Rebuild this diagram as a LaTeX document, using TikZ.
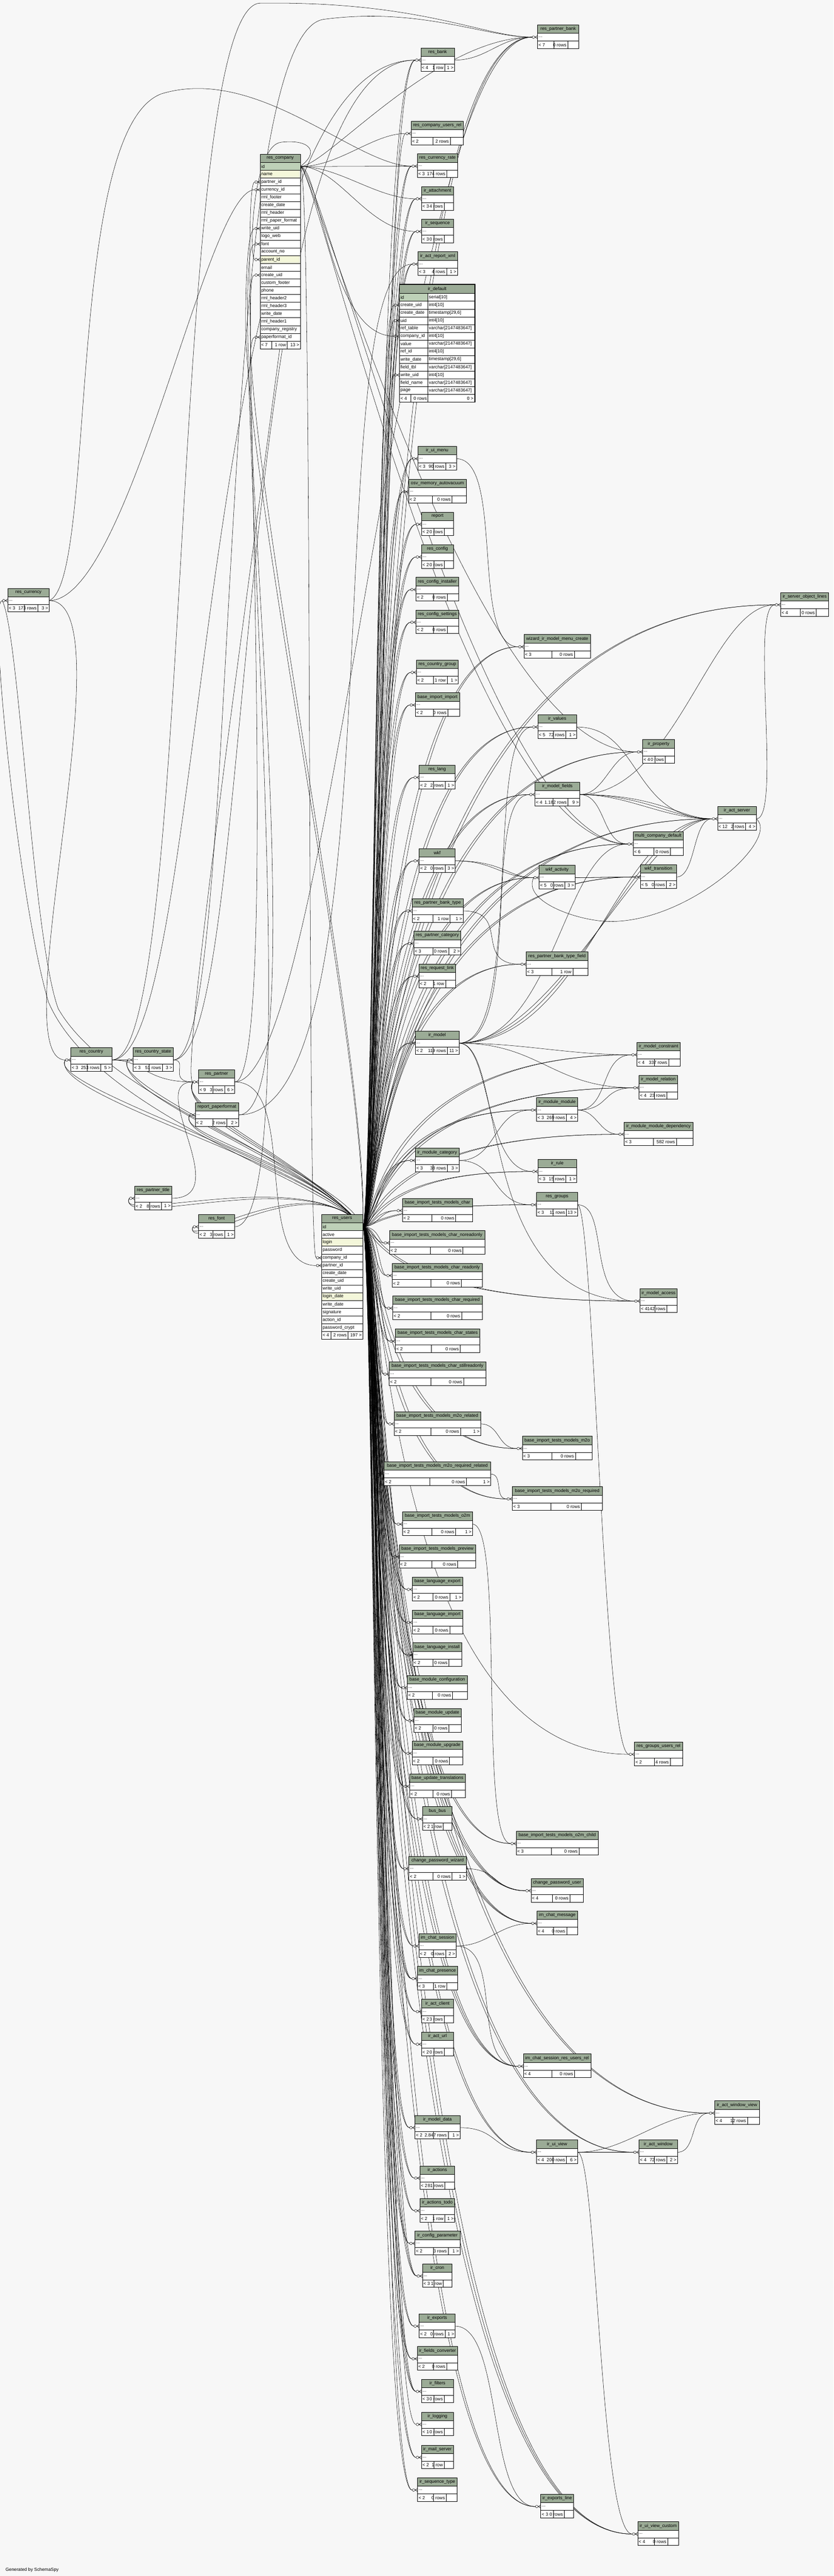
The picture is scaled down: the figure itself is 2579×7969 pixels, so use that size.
\documentclass[tikz,border=0pt]{standalone}
\usepackage{fontspec}
\setmainfont{Liberation Sans}
\usetikzlibrary{calc}
\definecolor{bgc}{HTML}{F7F7F7}
\definecolor{hdrc}{HTML}{9BAB96}
\definecolor{pkc}{HTML}{BED1B8}
\definecolor{idxc}{HTML}{F4F7DA}
\pgfdeclarelayer{bgl}
\pgfdeclarelayer{edges}
\pgfsetlayers{bgl,edges,main}
\newcommand\tfont{\fontsize{14}{16}\selectfont}
\newlength\tbw
\tikzset{
 tline/.style={draw=black,line width=1pt},
 thick border/.style={draw=black,line width=2.6pt},
 mk/.style={draw=black,line width=0.8pt},
 fk/.style={draw=black,line width=0.85pt},
 ttext/.style={inner sep=0pt,font=\tfont,text=black},
}
\newcommand\crowmark[2]{%
 \draw[mk] (#1-12.5,#2) circle (4pt);
 \draw[mk] (#1-8,#2) -- (#1,#2+5) (#1-8,#2) -- (#1,#2) (#1-8,#2) -- (#1,#2-5);}
% name, x, y, width, label, left, mid, right
\newcommand\tbl[8]{%
 \settowidth{\tbw}{\tfont #6}\pgfmathsetmacro\tL{\tbw+10}%
 \settowidth{\tbw}{\tfont #7}\pgfmathsetmacro\tM{\tbw+10}%
 \settowidth{\tbw}{\tfont #8}\pgfmathsetmacro\tR{max(\tbw+10,16)}%
 \pgfmathsetmacro\tX{max(#4-\tL-\tM-\tR,0)}%
 \pgfmathsetmacro\tla{\tL+0.45*\tX}%
 \pgfmathsetmacro\tra{\tR+0.2*\tX}%
 \node[fill=white,draw=none,inner sep=0pt,minimum width=#4pt,minimum height=73pt,anchor=north west] (#1) at (#2,-#3) {};
 \fill[hdrc] (#2,-#3) rectangle ++(#4,-26);
 \draw[tline] (#2,-#3) rectangle ++(#4,-73);
 \draw[tline] (#2,-#3-26) -- ++(#4,0) (#2,-#3-50) -- ++(#4,0);
 \draw[tline] (#2+\tla,-#3-50) -- ++(0,-23) (#2+#4-\tra,-#3-50) -- ++(0,-23);
 \node[ttext] (#1-t) at (#2+#4/2,-#3-13) {#5};
 \node[ttext,anchor=west] (#1-d) at (#2+3,-#3-38) {...};
 \node[ttext,anchor=west] (#1-l) at (#2+3,-#3-62) {#6};
 \node[ttext,anchor=east] (#1-m) at (#2+#4-\tra-4,-#3-62) {#7};
 \node[ttext,anchor=east] (#1-r) at (#2+#4-3,-#3-62) {#8};
 \coordinate (#1-in) at (#2-17,-#3-38);
 \coordinate (#1-out) at (#2+#4,-#3-38);
 \crowmark{#2}{-#3-38}%
}
\newcommand\fk[4]{\draw[fk] (#1) .. controls ($(#1)+(#3,0)$) and ($(#2)+(#4,0)$) .. (#2);}
\begin{document}
\begin{tikzpicture}[x=1pt,y=1pt]
\begin{pgfonlayer}{bgl}
\fill[bgc] (0,0) rectangle (2579,-7969);
\end{pgfonlayer}
\useasboundingbox (0,0) rectangle (2579,-7969);

% ---------- small tables ----------
\tbl{rpbank}{1663}{77}{128}{res\_partner\_bank}{< 7}{0 rows}{}
\tbl{rbank}{1302}{148}{104}{res\_bank}{< 4}{1 row}{1 >}
\tbl{rcur}{1272}{375}{162}{res\_company\_users\_rel}{< 2}{2 rows}{}
\tbl{rcrate}{1291}{476}{125}{res\_currency\_rate}{< 3}{174 rows}{}
\tbl{iratt}{1304}{577}{99}{ir\_attachment}{< 3}{4 rows}{}
\tbl{irseq}{1304}{678}{99}{ir\_sequence}{< 3}{0 rows}{}
\tbl{irarx}{1293}{779}{122}{ir\_act\_report\_xml}{< 3}{4 rows}{1 >}
\tbl{iruim}{1293}{1381}{119}{ir\_ui\_menu}{< 3}{90 rows}{3 >}
\tbl{osv}{1264}{1483}{179}{osv\_memory\_autovacuum}{< 2}{0 rows}{}
\tbl{report}{1304}{1584}{99}{report}{< 2}{0 rows}{}
\tbl{rconf}{1304}{1685}{99}{res\_config}{< 2}{0 rows}{}
\tbl{rconfi}{1287}{1786}{132}{res\_config\_installer}{< 2}{0 rows}{}
\tbl{rconfs}{1287}{1887}{132}{res\_config\_settings}{< 2}{0 rows}{}
\tbl{wiz}{1621}{1963}{206}{wizard\_ir\_model\_menu\_create}{< 3}{0 rows}{}
\tbl{rcg}{1288}{2042}{130}{res\_country\_group}{< 2}{1 row}{1 >}
\tbl{bii}{1285}{2143}{137}{base\_import\_import}{< 2}{0 rows}{}
\tbl{irval}{1664}{2211}{120}{ir\_values}{< 5}{72 rows}{1 >}
\tbl{irprop}{1988}{2288}{99}{ir\_property}{< 4}{0 rows}{}
\tbl{isol}{2415}{1833}{149}{ir\_server\_object\_lines}{< 4}{0 rows}{}
\tbl{rlang}{1297}{2367}{111}{res\_lang}{< 2}{2 rows}{1 >}
\tbl{irmf}{1655}{2420}{139}{ir\_model\_fields}{< 4}{1.182 rows}{9 >}
\tbl{ias}{2220}{2495}{120}{ir\_act\_server}{< 12}{2 rows}{4 >}
\tbl{mcd}{1959}{2573}{155}{multi\_company\_default}{< 6}{0 rows}{}
\tbl{wkf}{1297}{2625}{111}{wkf}{< 2}{0 rows}{3 >}
\tbl{wkfa}{1668}{2677}{111}{wkf\_activity}{< 5}{0 rows}{3 >}
\tbl{wkft}{1981}{2675}{112}{wkf\_transition}{< 5}{0 rows}{2 >}
\tbl{rpbt}{1275}{2780}{158}{res\_partner\_bank\_type}{< 2}{1 row}{1 >}
\tbl{rpc}{1280}{2881}{146}{res\_partner\_category}{< 3}{0 rows}{2 >}
\tbl{rrl}{1296}{2982}{114}{res\_request\_link}{< 2}{1 row}{}
\tbl{rpbtf}{1628}{2945}{191}{res\_partner\_bank\_type\_field}{< 3}{1 row}{}
\tbl{irm}{1285}{3189}{135}{ir\_model}{< 2}{119 rows}{11 >}
\tbl{irmc}{1971}{3225}{133}{ir\_model\_constraint}{< 4}{337 rows}{}
\tbl{irmr}{1977}{3327}{119}{ir\_model\_relation}{< 4}{23 rows}{}
\tbl{imm}{1660}{3396}{127}{ir\_module\_module}{< 3}{269 rows}{4 >}
\tbl{immd}{1931}{3471}{213}{ir\_module\_module\_dependency}{< 3}{582 rows}{}
\tbl{imc}{1285}{3552}{135}{ir\_module\_category}{< 3}{38 rows}{3 >}
\tbl{irule}{1664}{3586}{120}{ir\_rule}{< 3}{15 rows}{1 >}
\tbl{rgrp}{1660}{3689}{127}{res\_groups}{< 3}{11 rows}{13 >}
\tbl{bc}{1245}{3707}{217}{base\_import\_tests\_models\_char}{< 2}{0 rows}{}
\tbl{bcn}{1205}{3807}{295}{base\_import\_tests\_models\_char\_noreadonly}{< 2}{0 rows}{}
\tbl{bcr}{1213}{3908}{279}{base\_import\_tests\_models\_char\_readonly}{< 2}{0 rows}{}
\tbl{irma}{1980}{3987}{115}{ir\_model\_access}{< 4}{142 rows}{}
\tbl{bcq}{1215}{4009}{277}{base\_import\_tests\_models\_char\_required}{< 2}{0 rows}{}
\tbl{bcs}{1223}{4111}{262}{base\_import\_tests\_models\_char\_states}{< 2}{0 rows}{}
\tbl{bcsr}{1204}{4213}{299}{base\_import\_tests\_models\_char\_stillreadonly}{< 2}{0 rows}{}
\tbl{bmr}{1219}{4367}{268}{base\_import\_tests\_models\_m2o\_related}{< 2}{0 rows}{1 >}
\tbl{bm}{1616}{4443}{216}{base\_import\_tests\_models\_m2o}{< 3}{0 rows}{}
\tbl{bmrr}{1188}{4522}{330}{base\_import\_tests\_models\_m2o\_required\_related}{< 2}{0 rows}{1 >}
\tbl{bmq}{1585}{4599}{278}{base\_import\_tests\_models\_m2o\_required}{< 3}{0 rows}{}
\tbl{bo}{1245}{4677}{217}{base\_import\_tests\_models\_o2m}{< 2}{0 rows}{1 >}
\tbl{bp}{1235}{4778}{237}{base\_import\_tests\_models\_preview}{< 2}{0 rows}{}
\tbl{ble}{1276}{4879}{155}{base\_language\_export}{< 2}{0 rows}{1 >}
\tbl{bli}{1276}{4981}{155}{base\_language\_import}{< 2}{0 rows}{}
\tbl{blin}{1277}{5082}{151}{base\_language\_install}{< 2}{0 rows}{}
\tbl{bmc}{1260}{5183}{186}{base\_module\_configuration}{< 2}{0 rows}{}
\tbl{bmu}{1280}{5285}{147}{base\_module\_update}{< 2}{0 rows}{}
\tbl{bmup}{1275}{5386}{156}{base\_module\_upgrade}{< 2}{0 rows}{}
\tbl{but}{1267}{5488}{173}{base\_update\_translations}{< 2}{0 rows}{}
\tbl{bus}{1307}{5589}{92}{bus\_bus}{< 2}{1 row}{}
\tbl{rgur}{1963}{5389}{149}{res\_groups\_users\_rel}{< 2}{4 rows}{}
\tbl{boc}{1597}{5665}{254}{base\_import\_tests\_models\_o2m\_child}{< 3}{0 rows}{}
\tbl{cpw}{1265}{5743}{178}{change\_password\_wizard}{< 2}{0 rows}{1 >}
\tbl{cpu}{1643}{5811}{161}{change\_password\_user}{< 4}{0 rows}{}
\tbl{icm}{1661}{5912}{126}{im\_chat\_message}{< 4}{0 rows}{}
\tbl{ics}{1296}{5982}{115}{im\_chat\_session}{< 2}{0 rows}{2 >}
\tbl{icp}{1291}{6083}{125}{im\_chat\_presence}{< 3}{1 row}{}
\tbl{iac}{1304}{6185}{99}{ir\_act\_client}{< 2}{3 rows}{}
\tbl{iau}{1304}{6286}{99}{ir\_act\_url}{< 2}{0 rows}{}
\tbl{icsr}{1619}{6354}{209}{im\_chat\_session\_res\_users\_rel}{< 4}{0 rows}{}
\tbl{iawv}{2211}{6499}{138}{ir\_act\_window\_view}{< 4}{12 rows}{}
\tbl{imd}{1284}{6544}{139}{ir\_model\_data}{< 2}{2.847 rows}{1 >}
\tbl{iuv}{1660}{6620}{127}{ir\_ui\_view}{< 4}{200 rows}{6 >}
\tbl{iaw}{1977}{6620}{119}{ir\_act\_window}{< 4}{72 rows}{2 >}
\tbl{iact}{1299}{6700}{108}{ir\_actions}{< 2}{81 rows}{}
\tbl{iatd}{1299}{6801}{108}{ir\_actions\_todo}{< 2}{1 row}{1 >}
\tbl{icfg}{1284}{6902}{139}{ir\_config\_parameter}{< 2}{3 rows}{1 >}
\tbl{icron}{1307}{7003}{92}{ir\_cron}{< 3}{1 row}{}
\tbl{iexp}{1297}{7158}{111}{ir\_exports}{< 2}{0 rows}{1 >}
\tbl{ifc}{1291}{7259}{125}{ir\_fields\_converter}{< 2}{0 rows}{}
\tbl{ifil}{1304}{7360}{99}{ir\_filters}{< 3}{0 rows}{}
\tbl{ilog}{1304}{7462}{99}{ir\_logging}{< 1}{0 rows}{}
\tbl{ims}{1304}{7564}{99}{ir\_mail\_server}{< 2}{1 row}{}
\tbl{ist}{1292}{7665}{122}{ir\_sequence\_type}{< 2}{0 rows}{}
\tbl{iel}{1673}{7716}{102}{ir\_exports\_line}{< 3}{0 rows}{}
\tbl{iuvc}{1973}{7801}{127}{ir\_ui\_view\_custom}{< 4}{0 rows}{}
\tbl{rcurr}{24}{1820}{128}{res\_currency}{< 3}{173 rows}{3 >}
\tbl{rcty}{219}{3241}{127}{res\_country}{< 3}{253 rows}{5 >}
\tbl{rcs}{412}{3241}{124}{res\_country\_state}{< 3}{51 rows}{3 >}
\tbl{rpart}{614}{3309}{112}{res\_partner}{< 9}{3 rows}{6 >}
\tbl{rpf}{604}{3411}{134}{report\_paperformat}{< 2}{2 rows}{2 >}
\tbl{rpt}{417}{3669}{114}{res\_partner\_title}{< 2}{8 rows}{1 >}
\tbl{rfont}{614}{3757}{112}{res\_font}{< 2}{3 rows}{1 >}

% ---------- res_company ----------
\node[fill=white,inner sep=0pt,minimum width=124pt,minimum height=602pt,anchor=north west] (rcomp) at (805,-477) {};
\fill[hdrc] (805,-477) rectangle ++(124,-26);
\fill[pkc] (805,-503) rectangle ++(124,-24);
\fill[idxc] (805,-527) rectangle ++(124,-24);
\fill[idxc] (805,-791) rectangle ++(124,-24);
\node[ttext] (rcomp-t) at (867,-490) {res\_company};
\foreach \r [count=\i] in {id,name,partner\_id,currency\_id,rml\_footer,create\_date,rml\_header,rml\_paper\_format,write\_uid,logo\_web,font,account\_no,parent\_id,email,create\_uid,custom\_footer,phone,rml\_header2,rml\_header3,write\_date,rml\_header1,company\_registry,paperformat\_id}{
  \node[ttext,anchor=west] (rcomp-r\i) at (808,{-503-(\i-1)*24-12}) {\r};
  \draw[tline] (805,{-503-\i*24}) -- ++(124,0);
}
\draw[tline] (805,-477) rectangle ++(124,-602);
\draw[tline] (805,-503) -- ++(124,0);
\draw[tline] (840,-1055) -- ++(0,-24) (888,-1055) -- ++(0,-24);
\node[ttext,anchor=west] (rcomp-fl) at (808,-1067) {< 7};
\node[ttext,anchor=east] (rcomp-fm) at (885,-1067) {1 row};
\node[ttext,anchor=east] (rcomp-fr) at (926,-1067) {13 >};
\coordinate (rcomp-id) at (929,-515);
\crowmark{805}{-563}\coordinate (rcomp-partner) at (788,-563);
\crowmark{805}{-587}\coordinate (rcomp-currency) at (788,-587);
\crowmark{805}{-707}\coordinate (rcomp-write) at (788,-707);
\crowmark{805}{-755}\coordinate (rcomp-font) at (788,-755);
\crowmark{805}{-803}\coordinate (rcomp-parent) at (788,-803);
\crowmark{805}{-851}\coordinate (rcomp-create) at (788,-851);
\crowmark{805}{-1043}\coordinate (rcomp-paper) at (788,-1043);

% ---------- res_users ----------
\node[fill=white,inner sep=0pt,minimum width=127pt,minimum height=386pt,anchor=north west] (rusers) at (995,-3757) {};
\fill[hdrc] (995,-3757) rectangle ++(127,-26);
\fill[pkc] (995,-3783) rectangle ++(127,-24);
\fill[idxc] (995,-3831) rectangle ++(127,-24);
\fill[idxc] (995,-3999) rectangle ++(127,-24);
\node[ttext] (rusers-t) at (1058.5,-3770) {res\_users};
\foreach \r [count=\i] in {id,active,login,password,company\_id,partner\_id,create\_date,create\_uid,write\_uid,login\_date,write\_date,signature,action\_id,password\_crypt}{
  \node[ttext,anchor=west] (rusers-r\i) at (998,{-3783-(\i-1)*24-12}) {\r};
  \draw[tline] (995,{-3783-\i*24}) -- ++(127,0);
}
\draw[tline] (995,-3757) rectangle ++(127,-386);
\draw[tline] (995,-3783) -- ++(127,0);
\draw[tline] (1024,-4119) -- ++(0,-24) (1076,-4119) -- ++(0,-24);
\node[ttext,anchor=west] (rusers-fl) at (998,-4131) {< 4};
\node[ttext,anchor=east] (rusers-fm) at (1073,-4131) {2 rows};
\node[ttext,anchor=east] (rusers-fr) at (1119,-4131) {197 >};
\coordinate (rusers-id) at (1122,-3795);
\crowmark{995}{-3891}\coordinate (rusers-company) at (978,-3891);
\crowmark{995}{-3915}\coordinate (rusers-partner) at (978,-3915);

% ---------- ir_default ----------
\node[fill=white,inner sep=0pt,minimum width=233pt,minimum height=364pt,anchor=north west] (irdef) at (1236,-880) {};
\fill[hdrc] (1236,-880) rectangle ++(233,-28);
\fill[pkc] (1236,-908) rectangle ++(88,-24);
\node[ttext] (irdef-t) at (1352.5,-894) {ir\_default};
\foreach \r/\s [count=\i] in {id/serial[10],create\_uid/int4[10],create\_date/{timestamp[29,6]},uid/int4[10],ref\_table/varchar[2147483647],company\_id/int4[10],value/varchar[2147483647],ref\_id/int4[10],write\_date/{timestamp[29,6]},field\_tbl/varchar[2147483647],write\_uid/int4[10],field\_name/varchar[2147483647],page/varchar[2147483647]}{
  \node[ttext,anchor=west] (irdef-a\i) at (1239,{-908-(\i-1)*24-12}) {\r};
  \node[ttext,anchor=west] (irdef-b\i) at (1327,{-908-(\i-1)*24-12}) {\s};
  \draw[tline] (1236,{-908-\i*24}) -- ++(233,0);
}
\draw[tline] (1236,-908) -- ++(233,0);
\draw[tline] (1324,-908) -- (1324,-1220);
\draw[tline] (1270,-1220) -- ++(0,-24) (1324,-1220) -- ++(0,-24);
\node[ttext,anchor=west] (irdef-fl) at (1239,-1232) {< 4};
\node[ttext,anchor=east] (irdef-fm) at (1321,-1232) {0 rows};
\node[ttext,anchor=east] (irdef-fr) at (1465,-1232) {0 >};
\draw[thick border] (1236,-880) rectangle ++(233,-364);
\crowmark{1236}{-944}\coordinate (irdef-create) at (1219,-944);
\crowmark{1236}{-992}\coordinate (irdef-uid) at (1219,-992);
\crowmark{1236}{-1040}\coordinate (irdef-company) at (1219,-1040);
\crowmark{1236}{-1160}\coordinate (irdef-write) at (1219,-1160);

\node[ttext,anchor=west] (gen) at (17,-7950) {Generated by SchemaSpy};

% ---------- connectors ----------
\begin{pgfonlayer}{edges}
\coordinate (ux1) at (1158,0);
\coordinate (ux2) at (1172,0);
\coordinate (ux3) at (1186,0);
% res_users bundle
\foreach \c in {rpbank,rbank,rcrate,iratt,irseq,irarx,iruim,osv,report,rconf,rconfi,rconfs,wiz,rcg,bii,irval,irprop,isol,rlang,irmf,ias,mcd,wkf,wkfa,wkft,rpbt,rpc,rrl,rpbtf,irm,irmc,irmr,imm,immd,imc,irule,rgrp,bc,bcn,bcr,irma,bcq,bcs,bcsr,bmr,bm,bmrr,bmq,bo,bp,ble,bli,blin,bmc,bmu,bmup,but,bus,boc,cpw,cpu,icm,ics,icp,iac,iau,icsr,iawv,imd,iuv,iaw,iact,iatd,icfg,icron,iexp,ifc,ifil,ims,ist,iel,iuvc}{
  \draw[fk] (rusers-id) .. controls (ux1 |- rusers-id) and (ux1 |- \c-in) .. (\c-in);
  \draw[fk] (rusers-id) .. controls (ux2 |- rusers-id) and (ux2 |- \c-in) .. (\c-in);
}
\foreach \c in {rcur,rgur,ilog,cpu,icm,icp,icsr,icron,ifil,iuvc}{
  \draw[fk] (rusers-id) .. controls (ux3 |- rusers-id) and (ux3 |- \c-in) .. (\c-in);
}
\foreach \c in {irdef-create,irdef-uid,irdef-write}{
  \draw[fk] (rusers-id) .. controls (ux1 |- rusers-id) and (ux1 |- \c) .. (\c);
}
\draw[fk] (rusers-id) .. controls (1140,-3300) and (760,-1500) .. (760,-1000) .. controls (760,-820) and (770,-707) .. (rcomp-write);
\draw[fk] (rusers-id) .. controls (1150,-3350) and (775,-1500) .. (775,-1050) .. controls (775,-900) and (775,-851) .. (rcomp-create);
% res_users to left-hand tables
\draw[fk] (rusers-id) .. controls (1000,-3650) and (300,-3450) .. (150,-3100) .. controls (60,-2800) and (-40,-1857) .. (rcurr-in);
\draw[fk] (rusers-id) .. controls (1050,-3620) and (350,-3420) .. (180,-3120) .. controls (100,-2900) and (60,-1960) .. (rcurr-in);
\foreach \c/\cx/\cy in {rcty/140/-3360,rcty/150/-3390,rcs/340/-3360,rcs/350/-3390,rpart/540/-3420,rpart/545/-3440,rpart/550/-3460,rpf/540/-3510,rpf/550/-3530,rpt/350/-3790,rpt/360/-3810,rfont/560/-3870,rfont/570/-3890}{
  \draw[fk] (rusers-id) .. controls (960,-3600) and (\cx,\cy) .. (\c-in);
}
% res_company children
\fk{rcomp-id}{rcur-in}{120}{-100}
\fk{rcomp-id}{rcrate-in}{120}{-100}
\fk{rcomp-id}{iratt-in}{120}{-120}
\fk{rcomp-id}{irseq-in}{120}{-150}
\fk{rcomp-id}{irdef-company}{60}{-200}
\fk{rcomp-id}{rpbank-in}{80}{-300}
\fk{rcomp-id}{irprop-in}{40}{-500}
\fk{rcomp-id}{mcd-in}{50}{-500}
\fk{rcomp-id}{mcd-in}{70}{-450}
\fk{rcomp-id}{rpart-in}{30}{-60}
\fk{rcomp-id}{rusers-company}{40}{-30}
\draw[fk] (rcomp-id) .. controls (990,-470) and (960,-430) .. (870,-440) .. controls (780,-450) and (770,-803) .. (rcomp-parent);
% res_partner, currency, country, ...
\fk{rpart-out}{rcomp-partner}{150}{-60}
\fk{rpart-out}{rusers-partner}{200}{-200}
\fk{rpart-out}{rpbank-in}{300}{-400}
\fk{rcurr-out}{rcomp-currency}{250}{-150}
\draw[fk] (rcurr-out) .. controls (300,-1800) and (200,-400) .. (500,-290) .. controls (800,-200) and (1100,-514) .. (rcrate-in);
\fk{rcurr-out}{rcty-in}{250}{-200}
\fk{rcty-out}{rcs-in}{30}{-30}
\fk{rcty-out}{rpart-in}{100}{-150}
\draw[fk] (rcty-out) .. controls (650,-3278) and (600,-185) .. (rbank-in);
\draw[fk] (rcty-out) .. controls (600,-3278) and (520,-60) .. (800,-10) .. controls (1300,-2) and (1500,-115) .. (rpbank-in);
\fk{rcs-out}{rpart-in}{50}{-80}
\draw[fk] (rcs-out) .. controls (800,-3278) and (700,-185) .. (rbank-in);
\draw[fk] (rcs-out) .. controls (750,-3278) and (650,-120) .. (1000,-60) .. controls (1300,-20) and (1500,-115) .. (rpbank-in);
\fk{rpt-out}{rpart-in}{200}{-150}
\fk{rfont-out}{rcomp-font}{250}{-100}
\fk{rpf-out}{rcomp-paper}{250}{-80}
\fk{rpf-out}{irarx-in}{500}{-300}
\fk{rbank-out}{rpbank-in}{100}{-100}
\fk{iruim-out}{wiz-in}{150}{-150}
% ir_model family
\fk{irm-out}{irmf-in}{200}{-150}
\fk{irm-out}{irval-in}{200}{-150}
\fk{irm-out}{ias-in}{300}{-200}
\fk{irm-out}{ias-in}{350}{-250}
\fk{irm-out}{ias-in}{400}{-300}
\fk{irm-out}{mcd-in}{300}{-200}
\fk{irm-out}{irmc-in}{200}{-200}
\fk{irm-out}{irmr-in}{250}{-250}
\fk{irm-out}{irule-in}{100}{-150}
\fk{irm-out}{irma-in}{150}{-500}
\fk{irmf-out}{irprop-in}{80}{-80}
\fk{irmf-out}{ias-in}{150}{-150}
\fk{irmf-out}{ias-in}{200}{-120}
\fk{irmf-out}{ias-in}{250}{-100}
\fk{irmf-out}{isol-in}{300}{-200}
\fk{irmf-out}{mcd-in}{80}{-80}
\fk{irval-out}{ias-in}{200}{-250}
\fk{ias-out}{isol-in}{80}{-80}
\draw[fk] (ias-out) .. controls (2420,-2600) and (2100,-2880) .. (1850,-2848) .. controls (1750,-2835) and (1620,-2780) .. (wkfa-in);
\fk{wkf-out}{wkfa-in}{120}{-100}
\fk{wkf-out}{wkfa-in}{150}{-80}
\fk{wkfa-out}{wkft-in}{60}{-60}
\fk{wkfa-out}{wkft-in}{80}{-80}
\fk{wkft-out}{ias-in}{60}{-60}
\fk{rpbt-out}{rpbtf-in}{150}{-150}
\fk{imc-out}{imm-in}{120}{-120}
\fk{imc-out}{rgrp-in}{120}{-120}
\fk{imm-out}{irmc-in}{100}{-100}
\fk{imm-out}{irmr-in}{100}{-100}
\fk{imm-out}{immd-in}{60}{-60}
\fk{rgrp-out}{irma-in}{100}{-150}
\fk{rgrp-out}{rgur-in}{50}{-80}
\fk{bmr-out}{bm-in}{60}{-60}
\fk{bmrr-out}{bmq-in}{40}{-40}
\fk{bo-out}{boc-in}{100}{-100}
\fk{cpw-out}{cpu-in}{100}{-100}
\fk{ics-out}{icm-in}{100}{-100}
\fk{ics-out}{icsr-in}{150}{-150}
\fk{imd-out}{iuv-in}{120}{-120}
\fk{iuv-out}{iaw-in}{60}{-60}
\fk{iuv-out}{iaw-in}{80}{-50}
\fk{iuv-out}{iawv-in}{150}{-150}
\fk{iuv-out}{iuvc-in}{60}{-100}
\fk{iaw-out}{iawv-in}{60}{-60}
\fk{iexp-out}{iel-in}{150}{-150}
\end{pgfonlayer}
\end{tikzpicture}
\end{document}
